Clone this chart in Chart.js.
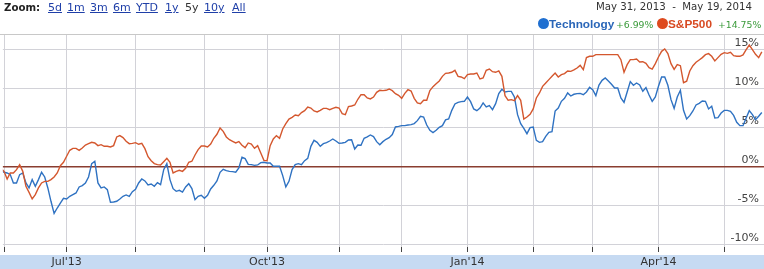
<!DOCTYPE html>
<html>
<head>
<meta charset="utf-8">
<script src="https://cdn.jsdelivr.net/npm/chart.js@4.4.1/dist/chart.umd.min.js"></script>
<style>
  body { margin: 0; background: #fff; width: 764px; height: 269px; overflow: hidden; position: relative; font-family: "DejaVu Sans", sans-serif; }
  #chart { position: absolute; left: 0; top: 0; }
  .hd { position: absolute; font-size: 11px; line-height: 13px; white-space: pre; }
  .lk { color: #1f3fa8; text-decoration: underline; }
  .dot { position: absolute; width: 11px; height: 11px; border-radius: 50%; }
  .nm { position: absolute; font-family: "Liberation Sans", Arial, sans-serif; font-weight: bold; font-size: 11.8px; line-height: 14px; }
  .pc { position: absolute; font-size: 9.3px; line-height: 14px; color: #3a9a3a; }
</style>
</head>
<body>
<canvas id="chart" width="764" height="269"></canvas>

<div class="hd" style="left:4px;top:1px;color:#222;font-weight:bold;font-size:10.2px;">Zoom:</div>
<div class="hd lk" style="left:48px;top:1px;">5d</div>
<div class="hd lk" style="left:67px;top:1px;">1m</div>
<div class="hd lk" style="left:90px;top:1px;">3m</div>
<div class="hd lk" style="left:113px;top:1px;">6m</div>
<div class="hd lk" style="left:136px;top:1px;">YTD</div>
<div class="hd lk" style="left:165px;top:1px;">1y</div>
<div class="hd" style="left:185px;top:1px;color:#333;">5y</div>
<div class="hd lk" style="left:204px;top:1px;">10y</div>
<div class="hd lk" style="left:232px;top:1px;">All</div>

<div class="hd" style="right:12px;top:0px;color:#333;font-size:10.2px;">May 31, 2013  -  May 19, 2014</div>

<div class="dot" style="left:538px;top:18px;background:#1f6fd0;"></div>
<div class="nm" style="left:549px;top:17px;color:#2a66b8;">Technology</div>
<div class="pc" style="left:616px;top:18px;">+6.99%</div>
<div class="dot" style="left:657px;top:18px;background:#de4a1e;"></div>
<div class="nm" style="left:668px;top:17px;color:#d84a22;">S&amp;P500</div>
<div class="pc" style="left:718px;top:18px;">+14.75%</div>

<script>
// trading-day index where each month starts (May 31 2013 = 0)
const monthStarts = [1, 21, 43, 65, 85, 108, 128, 149, 170, 189, 210, 231];
const quarterLabels = { 21: "Jul'13", 85: "Oct'13", 149: "Jan'14", 210: "Apr'14" };
const yTicks = [-10, -5, 0, 5, 10, 15];

// % change since May 31 2013, one value per trading day
const technology = [
  -0.34, -0.68, -0.77, -0.98, -2.05, -2.05, -0.98, -0.77, -2.05, -2.69,
  -1.62, -2.48, -1.62, -0.68, -1.28, -2.69, -4.40, -5.95, -5.26, -4.62,
  -4.02, -4.10, -3.76, -3.55, -3.33, -2.56, -2.39, -2.05, -1.28, 0.43,
  0.73, -2.05, -2.69, -2.56, -2.91, -4.53, -4.49, -4.40, -4.10, -3.76,
  -3.59, -3.76,
  -3.16, -2.86, -2.05, -1.54, -1.79, -2.31, -2.18, -2.48, -2.01, -2.26,
  -0.34, 0.43, -1.62, -2.78, -3.12, -2.99, -3.21, -2.56, -2.14, -2.78,
  -4.19, -3.76, -3.63, -4.02, -3.63, -2.82, -2.35, -1.79, -0.68, -0.30,
  -0.47, -0.56, -0.60, -0.68, -0.13, 1.24, 1.07, 0.34, 0.30, 0.21,
  0.26,
  0.56, 0.60, 0.51, 0.51, 0.09, 0.09, 0.09, -1.11, -2.56, -1.84,
  -0.34, 0.30, 0.43, 0.30, 0.81, 1.11, 2.65, 3.42, 3.16, 2.65,
  2.99, 3.12, 3.33, 3.59, 3.33, 3.03, 3.08, 3.16, 3.46, 3.50,
  2.31, 2.82, 2.78, 3.68, 3.85, 4.10, 3.89, 3.25, 2.86, 3.25,
  3.55, 3.76, 4.15, 5.13, 5.21, 5.30, 5.30, 5.38, 5.43, 5.56,
  5.94, 6.50, 6.41, 5.38, 4.70, 4.40, 4.70, 5.09, 5.30, 6.03,
  6.15, 7.26, 8.08, 8.29, 8.38, 8.42, 8.97, 8.38, 7.44, 7.22,
  7.56, 8.21, 7.69, 7.86, 7.35, 8.12, 9.40, 9.96, 9.62, 9.70,
  9.70, 8.97, 6.71, 5.56, 4.96, 4.27, 5.04, 5.13, 3.42, 3.16,
  3.25, 3.93, 4.44, 4.53, 7.18, 7.56, 8.42, 8.80, 9.49, 9.10,
  9.32, 9.40, 9.44, 9.27, 9.62, 10.21, 9.91, 9.15, 10.51, 11.11,
  11.41, 11.03, 10.60, 10.13, 10.13, 8.85, 8.29, 9.62, 10.94, 10.47,
  10.77,
  10.51, 9.70, 10.17, 9.23, 8.42, 8.97, 10.34, 11.54, 11.54, 10.47,
  8.63, 7.52, 8.97, 9.83, 7.26, 6.15, 6.58, 7.18, 7.95, 8.16,
  8.46, 8.42, 7.44, 7.78, 6.28, 6.32, 6.92, 7.26, 7.26, 7.14,
  6.62, 5.73, 5.30, 5.30, 6.28, 7.22, 6.71, 6.07, 6.50, 6.99
];

const sp500 = [
  -0.13, -0.56, -1.54, -0.77, -0.77, -0.34, 0.30, -0.56, -2.48, -3.25,
  -4.10, -3.55, -2.69, -2.05, -1.84, -1.84, -1.62, -1.28, -0.77, 0.17,
  0.60, 1.37, 2.14, 2.39, 2.39, 2.14, 2.44, 2.82, 2.99, 3.16,
  3.08, 2.74, 2.86, 2.65, 2.65, 2.56, 2.74, 3.85, 4.02, 3.76,
  3.29, 2.99,
  3.03, 3.12, 2.91, 3.03, 2.35, 1.32, 0.81, 0.43, 0.30, 0.26,
  0.68, 1.11, 0.60, -0.77, -0.56, -0.43, -0.56, -0.17, 0.60, 0.73,
  1.54, 2.22, 2.69, 2.69, 2.56, 2.95, 3.68, 4.19, 5.00, 4.57,
  3.85, 3.50, 3.29, 3.08, 3.25, 2.78, 2.48, 3.08, 2.95, 2.39,
  2.74,
  1.79, 0.85, 0.81, 2.74, 3.59, 4.02, 3.68, 4.87, 5.56, 6.15,
  6.37, 6.67, 6.58, 6.97, 7.22, 7.69, 7.56, 7.18, 7.05, 7.26,
  7.52, 7.52, 7.35, 7.52, 7.65, 7.56, 6.84, 6.71, 7.74, 7.82,
  7.95, 8.68, 9.27, 9.27, 8.85, 8.72, 8.97, 9.57, 9.83, 9.79,
  9.83, 10.00, 9.79, 9.40, 9.19, 8.80, 9.44, 9.91, 9.74, 8.80,
  8.21, 8.12, 8.55, 8.55, 9.79, 10.30, 10.68, 11.03, 11.62, 12.01,
  12.05, 12.14, 12.39, 11.62, 11.54, 11.32, 11.84, 11.92, 11.92, 12.05,
  11.28, 11.41, 12.39, 12.56, 12.22, 12.14, 12.31, 11.62, 9.15, 8.55,
  8.63, 8.50, 9.15, 8.55, 6.15, 6.41, 6.75, 7.44, 8.85, 9.49,
  10.34, 10.77, 11.20, 11.62, 12.05, 11.54, 11.84, 11.97, 12.31, 12.26,
  12.44, 12.69, 13.03, 12.48, 14.02, 14.19, 14.19, 14.40, 14.40, 14.40,
  14.40, 14.40, 14.40, 14.40, 14.40, 13.76, 12.14, 13.12, 13.76, 13.76,
  13.85,
  13.46, 13.50, 13.29, 12.74, 12.56, 13.25, 14.10, 14.83, 15.13, 14.53,
  13.25, 12.52, 13.12, 12.99, 10.80, 11.00, 12.31, 12.99, 13.42, 13.72,
  14.02, 14.40, 14.53, 14.19, 13.59, 14.02, 14.44, 14.66, 14.57, 14.70,
  14.27, 14.19, 14.19, 14.36, 15.04, 15.64, 15.04, 14.44, 14.02, 14.75
];

const toPoints = (arr) => arr.map((v, i) => ({ x: i, y: v }));

// light blue band under the plot + top border of the plot
const framePlugin = {
  id: "frame",
  beforeDraw(chart) {
    const c = chart.ctx;
    c.save();
    c.fillStyle = "#c6daf2";
    c.fillRect(0, 255, chart.width, chart.height - 255);
    c.restore();
  },
  afterDraw(chart) {
    const c = chart.ctx;
    const a = chart.chartArea;
    c.save();
    c.strokeStyle = "#c8c8c8";
    c.lineWidth = 1;
    c.beginPath();
    c.moveTo(0, a.top + 0.5);
    c.lineTo(chart.width, a.top + 0.5);
    c.stroke();
    c.restore();
  },
};

new Chart(document.getElementById("chart"), {
  type: "line",
  data: {
    datasets: [
      {
        label: "S&P500",
        data: toPoints(sp500),
        borderColor: "#d4572e",
        borderWidth: 1.4,
        pointRadius: 0,
        tension: 0,
      },
      {
        label: "Technology",
        data: toPoints(technology),
        borderColor: "#2f72c2",
        borderWidth: 1.4,
        pointRadius: 0,
        tension: 0,
      },
    ],
  },
  options: {
    responsive: false,
    animation: false,
    layout: { padding: { top: 34, left: 0, right: 0, bottom: 0 } },
    plugins: { legend: { display: false }, tooltip: { enabled: false } },
    scales: {
      x: {
        type: "linear",
        min: 0.64,
        max: 243.7,
        afterBuildTicks: (scale) => {
          scale.ticks = monthStarts.map((v) => ({ value: v }));
        },
        afterFit: (scale) => {
          scale.height = 22;
        },
        ticks: {
          autoSkip: false,
          maxRotation: 0,
          padding: 4,
          color: "#333",
          font: { family: "DejaVu Sans", size: 11 },
          callback: (v) => quarterLabels[v] || "",
        },
        grid: { color: "#d2d2d8", tickColor: "#444", tickLength: 5 },
        border: { display: false },
      },
      y: {
        position: "right",
        min: -10.26,
        max: 17.05,
        afterBuildTicks: (scale) => {
          scale.ticks = yTicks.map((v) => ({ value: v }));
        },
        afterFit: (scale) => {
          scale.width = 0;
        },
        ticks: {
          mirror: true,
          padding: -5,
          labelOffset: -7,
          color: "#444",
          font: { family: "DejaVu Sans", size: 11 },
          callback: (v) => v + "%",
        },
        grid: {
          drawTicks: false,
          color: (ctx) => (ctx.tick && ctx.tick.value === 0 ? "#8a3d30" : "#d2d2d8"),
          lineWidth: (ctx) => (ctx.tick && ctx.tick.value === 0 ? 1.5 : 1),
        },
        border: { display: false },
      },
    },
  },
  plugins: [framePlugin],
});
</script>
</body>
</html>
